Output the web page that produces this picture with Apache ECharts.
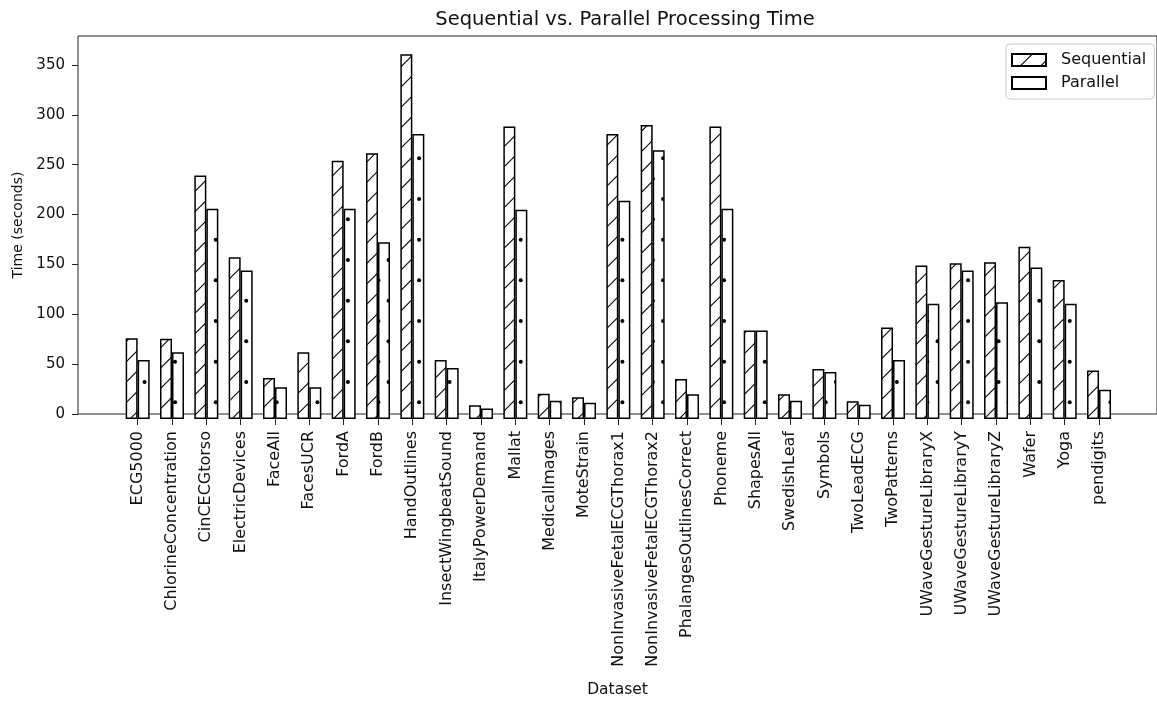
<!DOCTYPE html>
<html>
<head>
<meta charset="utf-8">
<script src="https://cdn.jsdelivr.net/npm/echarts@6/dist/echarts.min.js"></script>
<style>html,body{margin:0;padding:0;background:#fff;}#chart{width:1157px;height:703px;}</style>
</head>
<body>
<div id="chart"></div>
<script>
const categories = ['ECG5000','ChlorineConcentration','CinCECGtorso','ElectricDevices','FaceAll','FacesUCR','FordA','FordB','HandOutlines','InsectWingbeatSound','ItalyPowerDemand','Mallat','MedicalImages','MoteStrain','NonInvasiveFetalECGThorax1','NonInvasiveFetalECGThorax2','PhalangesOutlinesCorrect','Phoneme','ShapesAll','SwedishLeaf','Symbols','TwoLeadECG','TwoPatterns','UWaveGestureLibraryX','UWaveGestureLibraryY','UWaveGestureLibraryZ','Wafer','Yoga','pendigits'];
const sequential = [80, 79.5, 241, 160, 40.5, 66, 255.5, 263, 361, 58.5, 13.5, 289.5, 25, 21.5, 282, 291, 39.5, 289.5, 87.5, 24.5, 49.5, 17.5, 90.5, 152, 154, 155, 170.5, 137.5, 48];
const parallel = [58.5, 66, 208, 147, 31.5, 31.5, 208, 175, 282, 50.5, 10.5, 207, 18, 16, 216, 266, 24.5, 208, 87.5, 18, 46.5, 14, 58.5, 114, 147, 115.5, 150, 114, 29];
const yTicks = [0, 50, 100, 150, 200, 250, 300, 350];

const FONT = 'DejaVu Sans';
const S = 122, H = S / 6;

function hatchLines() {
  const c = document.createElement('canvas');
  c.width = S; c.height = S;
  const g = c.getContext('2d');
  g.fillStyle = '#fff'; g.fillRect(0, 0, S, S);
  g.strokeStyle = '#000'; g.lineWidth = 1.1;
  for (let k = -1; k <= 13; k++) {
    const cc = k * H;
    g.beginPath(); g.moveTo(-2, cc + 2); g.lineTo(cc + 2, -2); g.stroke();
  }
  return c;
}
function hatchDots() {
  const c = document.createElement('canvas');
  c.width = S; c.height = S;
  const g = c.getContext('2d');
  g.fillStyle = '#fff'; g.fillRect(0, 0, S, S);
  g.fillStyle = '#000';
  for (let j = 0; j < 6; j++) {
    const y = 16 + j * H;
    const x0 = 12.4 + (j % 2 === 0 ? H / 2 : 0);
    for (let i = 0; i < 6; i++) {
      const x = x0 + i * H;
      for (let dx = -1; dx <= 1; dx++) for (let dy = -1; dy <= 1; dy++) {
        g.beginPath(); g.arc(x + dx * S, y + dy * S, 2, 0, Math.PI * 2); g.fill();
      }
    }
  }
  return c;
}

const chart = echarts.init(document.getElementById('chart'), null, {renderer: 'canvas'});
const txt = {fontFamily: FONT, color: '#111'};
const option = {
  animation: false,
  backgroundColor: '#fff',
  title: {
    text: 'Sequential vs. Parallel Processing Time',
    left: 620, top: 5, textAlign: 'center',
    textStyle: Object.assign({fontSize: 19.5, fontWeight: 'normal'}, txt)
  },
  legend: {
    orient: 'vertical', left: 1006, top: 44,
    itemWidth: 34, itemHeight: 12, itemGap: 7,
    padding: [8, 8, 8, 5],
    borderColor: '#ccc', borderWidth: 1, borderRadius: 4,
    backgroundColor: 'rgba(255,255,255,0.8)',
    icon: 'rect',
    textStyle: Object.assign({fontSize: 16, padding: [0, 0, 0, 10]}, txt),
    data: ['Sequential', 'Parallel']
  },
  grid: [
    {left: 78, top: 36, right: -5, bottom: 284, show: true, borderColor: '#222', borderWidth: 1, backgroundColor: 'transparent'},
    {left: 120.5, top: 36, right: 40.8, bottom: 284}
  ],
  xAxis: [
    {gridIndex: 0, type: 'value', min: 0, max: 1,
     axisLine: {show: false}, axisTick: {show: false}, axisLabel: {show: false}, splitLine: {show: false},
     name: 'Dataset', nameLocation: 'middle', nameGap: 268,
     nameTextStyle: Object.assign({fontSize: 15.5}, txt)},
    {gridIndex: 1, type: 'category', data: categories,
     axisLine: {show: false},
     axisTick: {show: true, alignWithLabel: true, length: 6, lineStyle: {color: '#222', width: 1}},
     axisLabel: Object.assign({rotate: 90, interval: 0, margin: 12, fontSize: 16}, txt)}
  ],
  yAxis: [
    {gridIndex: 0, type: 'value', min: 0, max: 379, interval: 50,
     axisLine: {show: false},
     axisTick: {show: true, length: 6, customValues: yTicks, lineStyle: {color: '#222', width: 1}},
     axisLabel: Object.assign({fontSize: 15, margin: 13, customValues: yTicks}, txt),
     splitLine: {show: false},
     name: 'Time (seconds)', nameLocation: 'middle', nameGap: 52,
     nameTextStyle: Object.assign({fontSize: 14}, txt)},
    {gridIndex: 1, type: 'value', min: 0, max: 379, show: false, splitLine: {show: false}}
  ],
  series: [
    {name: 'Sequential', type: 'bar', xAxisIndex: 1, yAxisIndex: 1, data: sequential,
     barWidth: 12, barGap: '0%',
     itemStyle: {color: {image: hatchLines(), repeat: 'repeat'}, borderColor: '#000', borderWidth: 1.5}},
    {name: 'Parallel', type: 'bar', xAxisIndex: 1, yAxisIndex: 1, data: parallel,
     barWidth: 12, barGap: '0%',
     itemStyle: {color: {image: hatchDots(), repeat: 'repeat'}, borderColor: '#000', borderWidth: 1.5}}
  ]
};
chart.setOption(option);
</script>
</body>
</html>
